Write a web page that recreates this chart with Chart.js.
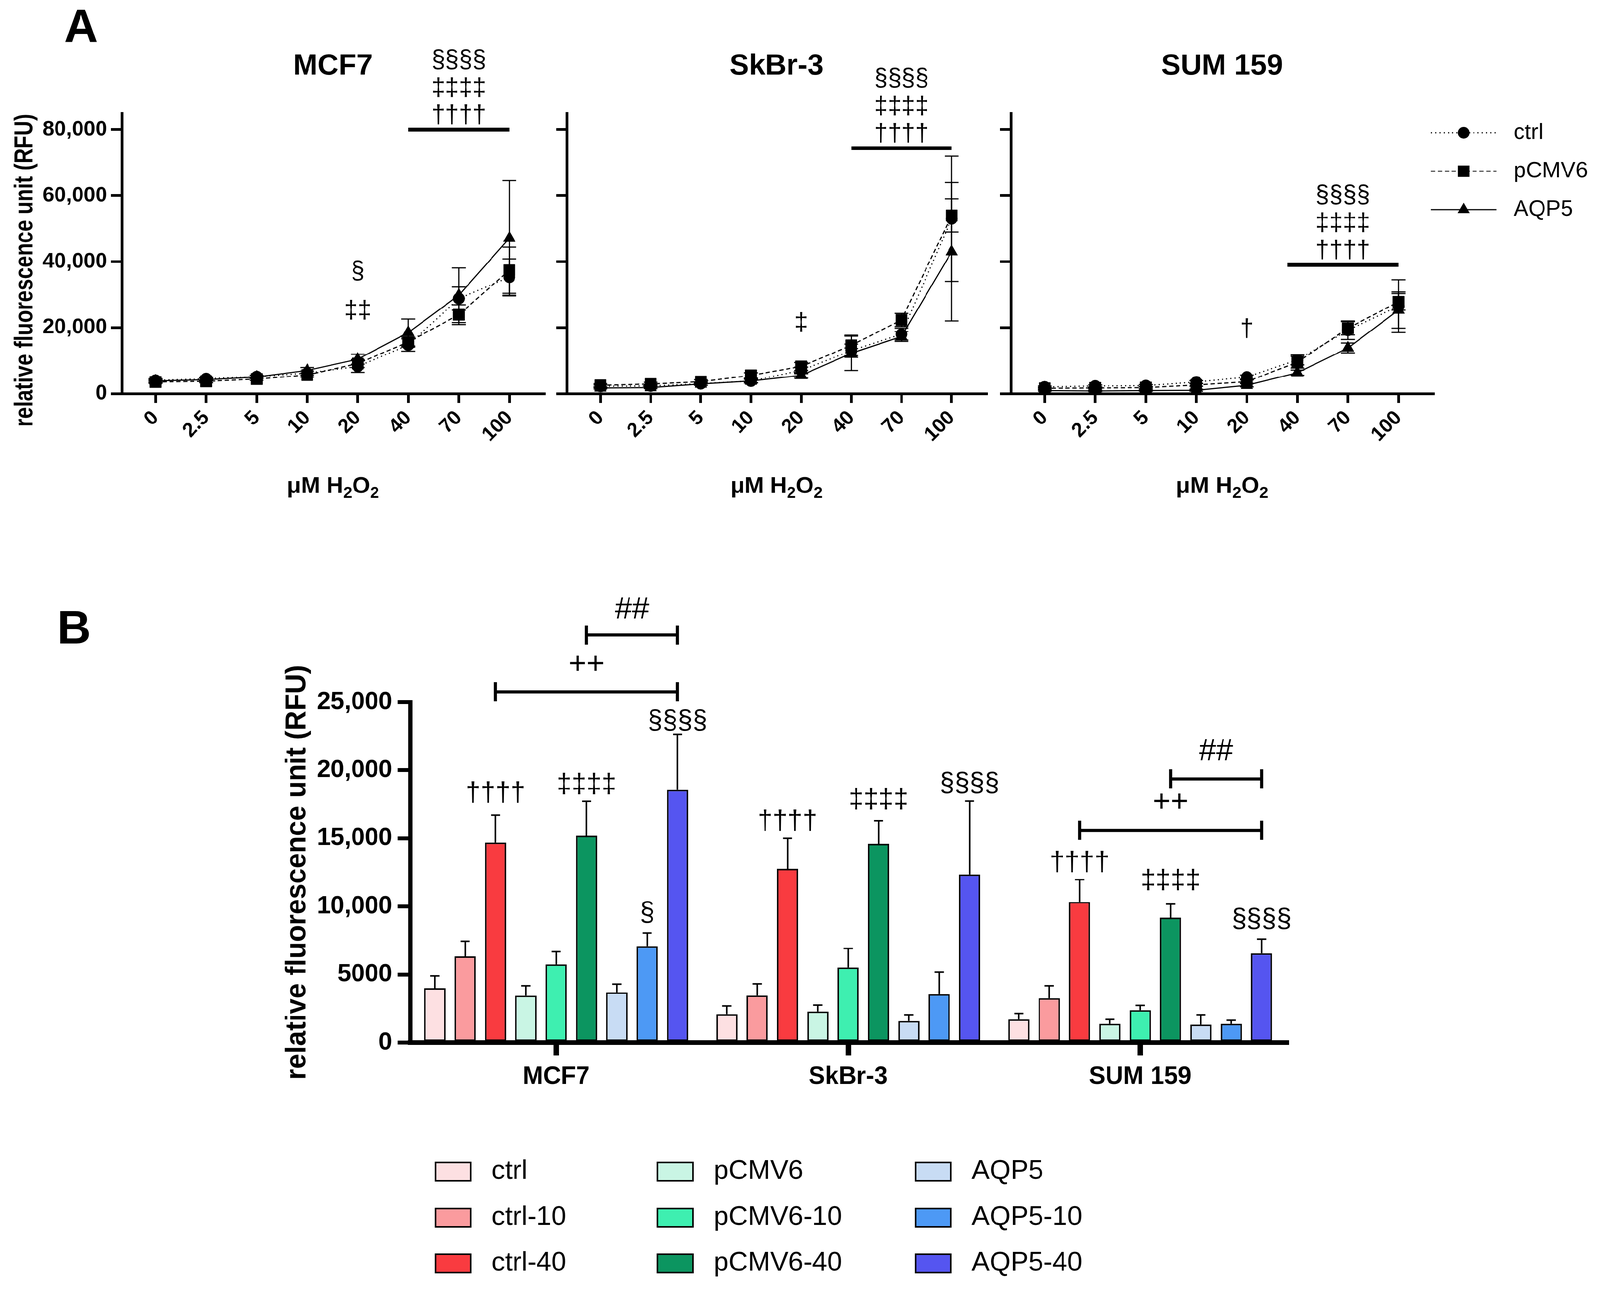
<!DOCTYPE html>
<html>
<head>
<meta charset="utf-8">
<title>H2O2 uptake - fluorescence</title>
<script src="https://cdn.jsdelivr.net/npm/chart.js@4.4.1/dist/chart.umd.min.js"></script>
<style>
  html, body { margin: 0; padding: 0; background: #fff; overflow: hidden; }
  #page { position: absolute; left: 0; top: 0; width: 4166px; height: 3360px; transform-origin: 0 0; }
  canvas { position: absolute; }
</style>
</head>
<body>
<div id="page">
<canvas id="mcf7"></canvas>
<canvas id="skbr3"></canvas>
<canvas id="sum159"></canvas>
<canvas id="bars"></canvas>
</div>
<script>
// ---------- panel A : dose curves ----------
const doses = ['0', '2.5', '5', '10', '20', '40', '70', '100'];
const aTickVals = [0, 20000, 40000, 60000, 80000];
const aTicks = ['0', '20,000', '40,000', '60,000', '80,000'];
const lineNames = ['ctrl', 'pCMV6', 'AQP5'];

const mcf7Ctrl    = [4000, 4500, 5100, 6200, 8200, 14700, 28800, 35300];
const mcf7CtrlErr = [500, 400, 400, 600, 1800, 1900, 3500, 5500];
const mcf7Pcmv    = [3500, 3700, 4400, 5600, 9100, 15600, 23900, 37400];
const mcf7PcmvErr = [400, 400, 400, 600, 1200, 1500, 3000, 7000];
const mcf7Aqp5    = [3800, 4200, 5000, 7000, 10400, 18500, 29800, 47100];
const mcf7Aqp5Err = [400, 400, 500, 900, 1500, 4100, 8300, 17500];

const skbrCtrl    = [2200, 2300, 3000, 3800, 7000, 13000, 18000, 53000];
const skbrCtrlErr = [400, 400, 500, 600, 1000, 2000, 1800, 19000];
const skbrPcmv    = [2500, 2900, 3600, 5500, 8200, 14600, 22300, 54000];
const skbrPcmvErr = [500, 500, 600, 800, 1200, 3100, 2000, 5000];
const skbrAqp5    = [1700, 1800, 2900, 3800, 5500, 12200, 17300, 43000];
const skbrAqp5Err = [300, 300, 400, 500, 800, 5200, 1500, 21000];

const sumCtrl    = [2000, 2300, 2400, 3500, 5000, 10200, 19200, 26500];
const sumCtrlErr = [300, 300, 300, 400, 600, 1500, 2800, 8000];
const sumPcmv    = [1600, 1700, 1800, 2600, 3600, 9500, 19800, 27800];
const sumPcmvErr = [300, 300, 300, 400, 500, 1800, 2000, 2500];
const sumAqp5    = [900, 800, 900, 1000, 2500, 6300, 13800, 25300];
const sumAqp5Err = [200, 200, 200, 300, 500, 800, 1500, 5500];

// significance: stacked symbols over a bar [from dose idx, to dose idx, level]
const sigStack = ['§§§§', '‡‡‡‡', '††††'];
const mcf7Span = [5, 7, 80000];
const skbrSpan = [5, 7, 74400];
const sumSpan  = [4.8, 7, 39000];
// single marks [dose idx, level, text]
const mcf7Marks = [[4, 37000, '§'], [4, 25000, '‡‡']];
const skbrMarks = [[4, 21300, '‡']];
const sumMarks  = [[4, 19400, '†']];

// ---------- panel B : grouped bars ----------
const cellLines = ['MCF7', 'SkBr-3', 'SUM 159'];
const bTickVals = [0, 5000, 10000, 15000, 20000, 25000];
const bTicks = ['0', '5000', '10,000', '15,000', '20,000', '25,000'];
const barNames = ['ctrl', 'ctrl-10', 'ctrl-40', 'pCMV6', 'pCMV6-10', 'pCMV6-40', 'AQP5', 'AQP5-10', 'AQP5-40'];

const ctrl0      = [4000, 2100, 1710];
const ctrl0Err   = [900, 600, 440];
const ctrl10     = [6340, 3460, 3260];
const ctrl10Err  = [1110, 860, 920];
const ctrl40     = [14690, 12770, 10340];
const ctrl40Err  = [2010, 2230, 1630];
const pcmv0      = [3450, 2290, 1390];
const pcmv0Err   = [730, 470, 320];
const pcmv10     = [5760, 5530, 2390];
const pcmv10Err  = [930, 1390, 350];
const pcmv40     = [15190, 14600, 9190];
const pcmv40Err  = [2540, 1690, 990];
const aqp0       = [3700, 1590, 1330];
const aqp0Err    = [600, 460, 720];
const aqp10      = [7090, 3560, 1390];
const aqp10Err   = [960, 1610, 260];
const aqp40      = [18560, 12350, 6560];
const aqp40Err   = [4080, 5390, 1040];

// [series idx, cell line idx, level, text]
const bMarks = [
  [2, 0, 18290, '††††'], [5, 0, 18910, '‡‡‡‡'], [8, 0, 23590, '§§§§'], [7, 0, 9500, '§'],
  [2, 1, 16230, '††††'], [5, 1, 17810, '‡‡‡‡'], [8, 1, 19000, '§§§§'],
  [2, 2, 13190, '††††'], [5, 2, 11870, '‡‡‡‡'], [8, 2, 9020, '§§§§']
];
// [cell line idx, from series, to series, level, text, text level]
const bBrackets = [
  [0, 2, 8, 25760, '++', 27730], [0, 5, 8, 29930, '##', 31770],
  [2, 2, 8, 15590, '++', 17620], [2, 5, 8, 19360, '##', 21360]
];

const FONT = '"Liberation Sans", Arial, Helvetica, sans-serif';
Chart.defaults.font.family = FONT;
Chart.defaults.color = '#000';

// keep the 4166x3360 layout inside whatever viewport we get
const fitK = Math.min(window.innerWidth / 4166, window.innerHeight / 3360);
if (Math.abs(fitK - 1) > 0.002) document.getElementById('page').style.transform = 'scale(' + fitK + ')';

const lineLook = [
  {dash: [3, 8], point: 'circle', r: 15},
  {dash: [11, 7], point: 'rect', r: 21},
  {dash: [], point: 'triangle', r: 18}
];
const barColors = ['#fde0e2', '#fa9b9e', '#f93b40', '#c9f5e4', '#3eefb0', '#0c9560', '#c8dcf4', '#4d99f5', '#5555f0'];

function place(id, box) {
  const cv = document.getElementById(id);
  cv.width = box.w; cv.height = box.h;
  Object.assign(cv.style, {left: box.x + 'px', top: box.y + 'px', width: box.w + 'px', height: box.h + 'px'});
  return cv;
}
function pad(box, area, yw, xh) {
  return {
    left: area.left - box.x - yw,
    top: area.top - box.y,
    right: box.x + box.w - area.right,
    bottom: box.y + box.h - area.bottom - xh
  };
}
function text(ctx, str, x, y, size, bold, align) {
  ctx.font = (bold ? 'bold ' : '') + size + 'px ' + FONT;
  ctx.textAlign = align || 'center';
  ctx.textBaseline = 'middle';
  ctx.fillStyle = '#000';
  ctx.fillText(str, x, y);
}
// rotated axis title, x is the text baseline; squeeze < 1 narrows the letters
function vtext(ctx, str, x, y, size, squeeze) {
  ctx.save();
  ctx.translate(x, y);
  ctx.rotate(-Math.PI / 2);
  ctx.scale(squeeze || 1, 1);
  ctx.font = 'bold ' + size + 'px ' + FONT;
  ctx.textAlign = 'center';
  ctx.textBaseline = 'alphabetic';
  ctx.fillStyle = '#000';
  ctx.fillText(str, 0, 0);
  ctx.restore();
}
function panelLetter(ctx, str, x, y) {
  ctx.font = 'bold 122px ' + FONT;
  ctx.textAlign = 'center';
  ctx.textBaseline = 'alphabetic';
  ctx.fillStyle = '#000';
  ctx.fillText(str, x, y);
}
// µM H2O2 with real subscripts
function doseTitle(ctx, cx, cy) {
  const parts = [['μM H', 60, 0], ['2', 42, 13], ['O', 60, 0], ['2', 42, 13]];
  let w = 0;
  parts.forEach(p => { ctx.font = 'bold ' + p[1] + 'px ' + FONT; w += ctx.measureText(p[0]).width; });
  let x = cx - w / 2;
  ctx.textAlign = 'left';
  ctx.textBaseline = 'alphabetic';
  ctx.fillStyle = '#000';
  parts.forEach(p => {
    ctx.font = 'bold ' + p[1] + 'px ' + FONT;
    ctx.fillText(p[0], x, cy + 21 + p[2]);
    x += ctx.measureText(p[0]).width;
  });
}
function marker(ctx, style, x, y, r) {
  ctx.beginPath();
  if (style === 'circle') {
    ctx.arc(x, y, r, 0, Math.PI * 2);
  } else if (style === 'rect') {
    const s = r * Math.SQRT1_2;
    ctx.rect(x - s, y - s, 2 * s, 2 * s);
  } else {
    for (let k = 0; k < 3; k++) {
      const a = k * 2 * Math.PI / 3;
      const px = x + Math.sin(a) * r, py = y - Math.cos(a) * r;
      if (k) ctx.lineTo(px, py); else ctx.moveTo(px, py);
    }
    ctx.closePath();
  }
  ctx.fillStyle = '#000';
  ctx.fill();
}

function doseChart(id, box, area, cfg) {
  const cv = place(id, box);
  const yw = cfg.first ? 230 : 40, xh = 200;
  const sets = cfg.means.map((m, i) => ({
    label: lineNames[i],
    data: m.map((v, j) => ({x: j, y: v})),
    borderColor: '#000',
    borderWidth: 3,
    borderDash: lineLook[i].dash,
    pointStyle: lineLook[i].point,
    pointRadius: lineLook[i].r,
    pointBackgroundColor: '#000',
    pointBorderColor: '#000',
    pointBorderWidth: 1,
    tension: 0,
    fill: false,
    clip: false
  }));
  return new Chart(cv, {
    type: 'line',
    data: {datasets: sets},
    options: {
      responsive: false,
      animation: false,
      devicePixelRatio: 1,
      layout: {padding: pad(box, area, yw, xh)},
      plugins: {legend: {display: false}, tooltip: {enabled: false}},
      scales: {
        x: {
          type: 'linear', min: -0.67, max: 7.69,
          afterDataLimits: s => { s.min = -0.67; s.max = 7.69; },
          afterBuildTicks: s => { s.ticks = doses.map((d, i) => ({value: i})); },
          afterFit: s => { s.height = xh; },
          border: {color: '#000', width: 7},
          grid: {display: true, drawOnChartArea: false, drawTicks: true, tickLength: 25, lineWidth: 7, color: '#000'},
          ticks: {
            autoSkip: false, minRotation: 45, maxRotation: 45, padding: 8,
            font: {size: 52, weight: 'bold'}, color: '#000',
            callback: v => doses[v]
          }
        },
        y: {
          min: 0, max: 85000,
          afterDataLimits: s => { s.min = 0; s.max = 85000; },
          afterBuildTicks: s => { s.ticks = aTickVals.map(v => ({value: v})); },
          afterFit: s => { s.width = yw; },
          border: {color: '#000', width: 7},
          grid: {display: true, drawOnChartArea: false, drawTicks: true, tickLength: 28, lineWidth: 7, color: '#000'},
          ticks: {
            padding: 10,
            font: {size: 55, weight: 'bold'}, color: '#000',
            callback: (v, i) => cfg.first ? aTicks[i] : ''
          }
        }
      }
    },
    plugins: [{
      id: 'errbars',
      beforeDatasetsDraw(chart) {
        const ctx = chart.ctx, ys = chart.scales.y;
        ctx.save();
        ctx.strokeStyle = '#000';
        ctx.lineWidth = 3;
        ctx.setLineDash([]);
        cfg.errs.forEach((errs, i) => {
          const pts = chart.getDatasetMeta(i).data;
          errs.forEach((e, j) => {
            const m = cfg.means[i][j], x = pts[j].x;
            const yt = ys.getPixelForValue(m + e), yb = ys.getPixelForValue(m - e);
            ctx.beginPath();
            ctx.moveTo(x, yt); ctx.lineTo(x, yb);
            ctx.moveTo(x - 18, yt); ctx.lineTo(x + 18, yt);
            ctx.moveTo(x - 18, yb); ctx.lineTo(x + 18, yb);
            ctx.stroke();
          });
        });
        ctx.restore();
      },
      afterDraw(chart) {
        const ctx = chart.ctx, xs = chart.scales.x, ys = chart.scales.y, ca = chart.chartArea;
        ctx.save();
        // significance bar + stacked symbols
        const x1 = xs.getPixelForValue(cfg.span[0]), x2 = xs.getPixelForValue(cfg.span[1]);
        const yy = ys.getPixelForValue(cfg.span[2]);
        ctx.strokeStyle = '#000';
        ctx.lineWidth = 10;
        ctx.beginPath(); ctx.moveTo(x1, yy); ctx.lineTo(x2, yy); ctx.stroke();
        const mid = (x1 + x2) / 2;
        text(ctx, sigStack[2], mid, yy - 37, 64, false);
        text(ctx, sigStack[1], mid, yy - 108, 64, false);
        text(ctx, sigStack[0], mid, yy - 181, 64, false);
        cfg.marks.forEach(m => text(ctx, m[2], xs.getPixelForValue(m[0]), ys.getPixelForValue(m[1]), 64, false));
        // titles
        const cx = (ca.left + ca.right) / 2;
        text(ctx, cfg.title, cx, 173 - box.y, 76, true);
        doseTitle(ctx, cx, 1263 - box.y);
        if (cfg.first) {
          panelLetter(ctx, 'A', 211 - box.x, 110 - box.y);
          vtext(ctx, 'relative fluorescence unit (RFU)', 84 - box.x, 704 - box.y, 66, 0.82);
        }
        if (cfg.legend) {
          const rows = [346, 446, 546];
          lineNames.forEach((n, i) => {
            const y = rows[i] - box.y;
            ctx.strokeStyle = '#000';
            ctx.lineWidth = 3;
            ctx.setLineDash(lineLook[i].dash);
            ctx.beginPath(); ctx.moveTo(3726 - box.x, y); ctx.lineTo(3896 - box.x, y); ctx.stroke();
            ctx.setLineDash([]);
            marker(ctx, lineLook[i].point, 3811 - box.x, y, lineLook[i].r);
            text(ctx, n, 3941 - box.x, y, 58, false, 'left');
          });
        }
        ctx.restore();
      }
    }]
  });
}

doseChart('mcf7', {x: 0, y: 0, w: 1440, h: 1360}, {left: 317, top: 295, right: 1417, bottom: 1025}, {
  first: true, title: 'MCF7',
  means: [mcf7Ctrl, mcf7Pcmv, mcf7Aqp5], errs: [mcf7CtrlErr, mcf7PcmvErr, mcf7Aqp5Err],
  span: mcf7Span, marks: mcf7Marks
});
doseChart('skbr3', {x: 1430, y: 0, w: 1160, h: 1360}, {left: 1476, top: 295, right: 2576, bottom: 1025}, {
  title: 'SkBr-3',
  means: [skbrCtrl, skbrPcmv, skbrAqp5], errs: [skbrCtrlErr, skbrPcmvErr, skbrAqp5Err],
  span: skbrSpan, marks: skbrMarks
});
doseChart('sum159', {x: 2590, y: 0, w: 1576, h: 1360}, {left: 2632, top: 295, right: 3732, bottom: 1025}, {
  title: 'SUM 159', legend: true,
  means: [sumCtrl, sumPcmv, sumAqp5], errs: [sumCtrlErr, sumPcmvErr, sumAqp5Err],
  span: sumSpan, marks: sumMarks
});

// ---------- panel B chart ----------
(function () {
  const box = {x: 0, y: 1450, w: 3500, h: 1910};
  const area = {left: 1068, top: 1829, right: 3349, bottom: 2716};
  const yw = 260, xh = 150;
  const cv = place('bars', box);
  const means = [ctrl0, ctrl10, ctrl40, pcmv0, pcmv10, pcmv40, aqp0, aqp10, aqp40];
  const errs = [ctrl0Err, ctrl10Err, ctrl40Err, pcmv0Err, pcmv10Err, pcmv40Err, aqp0Err, aqp10Err, aqp40Err];

  new Chart(cv, {
    type: 'bar',
    data: {
      labels: cellLines,
      datasets: means.map((m, i) => ({
        label: barNames[i],
        data: m,
        backgroundColor: barColors[i],
        borderColor: '#000',
        borderWidth: 4,
        borderSkipped: false,
        categoryPercentage: 0.935,
        barPercentage: 0.7
      }))
    },
    options: {
      responsive: false,
      animation: false,
      devicePixelRatio: 1,
      layout: {padding: pad(box, area, yw, xh)},
      plugins: {legend: {display: false}, tooltip: {enabled: false}},
      scales: {
        x: {
          offset: true,
          afterFit: s => { s.height = xh; },
          border: {color: '#000', width: 12},
          grid: {display: true, offset: false, drawOnChartArea: false, drawTicks: true, tickLength: 33, lineWidth: 14, color: '#000'},
          ticks: {padding: 18, font: {size: 64, weight: 'bold'}, color: '#000'}
        },
        y: {
          min: 0, max: 25000,
          afterDataLimits: s => { s.min = 0; s.max = 25000; },
          afterBuildTicks: s => { s.ticks = bTickVals.map(v => ({value: v})); },
          afterFit: s => { s.width = yw; },
          border: {color: '#000', width: 11},
          grid: {display: true, drawOnChartArea: false, drawTicks: true, tickLength: 33, lineWidth: 10, color: '#000'},
          ticks: {
            padding: 14,
            font: {size: 64, weight: 'bold'}, color: '#000',
            callback: (v, i) => bTicks[i]
          }
        }
      }
    },
    plugins: [{
      id: 'barExtras',
      afterDatasetsDraw(chart) {
        const ctx = chart.ctx, ys = chart.scales.y;
        ctx.save();
        ctx.strokeStyle = '#000';
        // upper error whiskers
        ctx.lineWidth = 4;
        errs.forEach((e, i) => {
          const bars = chart.getDatasetMeta(i).data;
          e.forEach((v, g) => {
            const x = bars[g].x;
            const y0 = ys.getPixelForValue(means[i][g]), y1 = ys.getPixelForValue(means[i][g] + v);
            ctx.beginPath();
            ctx.moveTo(x, y0); ctx.lineTo(x, y1);
            ctx.moveTo(x - 12, y1); ctx.lineTo(x + 12, y1);
            ctx.stroke();
          });
        });
        // symbols over bars
        bMarks.forEach(m => {
          const x = chart.getDatasetMeta(m[0]).data[m[1]].x;
          text(ctx, m[3], x, ys.getPixelForValue(m[2]), 70, false);
        });
        // comparison brackets
        ctx.lineWidth = 8;
        bBrackets.forEach(b => {
          const x1 = chart.getDatasetMeta(b[1]).data[b[0]].x;
          const x2 = chart.getDatasetMeta(b[2]).data[b[0]].x;
          const yy = ys.getPixelForValue(b[3]);
          ctx.beginPath();
          ctx.moveTo(x1, yy); ctx.lineTo(x2, yy);
          ctx.moveTo(x1, yy - 25); ctx.lineTo(x1, yy + 25);
          ctx.moveTo(x2, yy - 25); ctx.lineTo(x2, yy + 25);
          ctx.stroke();
          text(ctx, b[4], (x1 + x2) / 2, ys.getPixelForValue(b[5]), 80, false);
        });
        ctx.restore();
      },
      afterDraw(chart) {
        const ctx = chart.ctx;
        ctx.save();
        panelLetter(ctx, 'B', 193 - box.x, 1676 - box.y);
        vtext(ctx, 'relative fluorescence unit (RFU)', 795 - box.x, 2272 - box.y, 74, 0.97);
        // legend, three columns
        const cols = [1134, 1712, 2384], rows = [3052, 3172, 3291];
        barNames.forEach((n, i) => {
          const bx = cols[Math.floor(i / 3)] - box.x, cy = rows[i % 3] - box.y;
          ctx.fillStyle = barColors[i];
          ctx.fillRect(bx, cy - 24, 92, 48);
          ctx.strokeStyle = '#000';
          ctx.lineWidth = 4;
          ctx.strokeRect(bx, cy - 24, 92, 48);
          text(ctx, n, bx + 146, cy, 70, false, 'left');
        });
        ctx.restore();
      }
    }]
  });
})();
</script>
</body>
</html>
